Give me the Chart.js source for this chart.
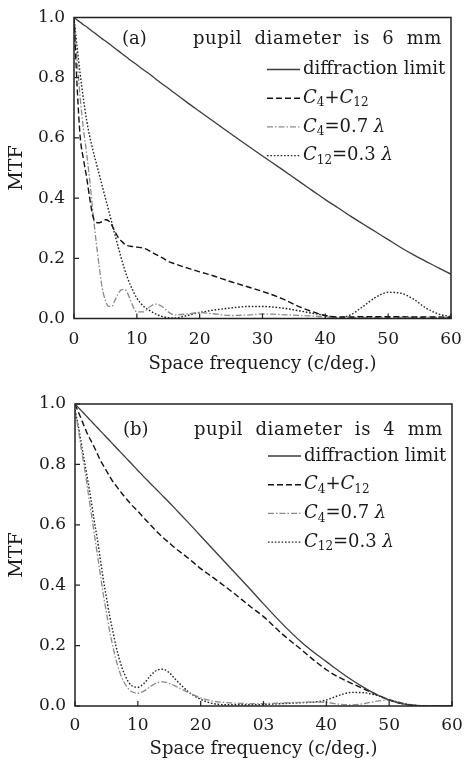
<!DOCTYPE html>
<html>
<head>
<meta charset="utf-8">
<script src="https://cdn.jsdelivr.net/npm/chart.js@4.4.0/dist/chart.umd.min.js"></script>
<style>
body{margin:0;background:#fff;width:464px;height:763px;overflow:hidden}
.box{position:absolute;left:0;width:464px}
</style>
</head>
<body>
<div class="box" style="top:0;height:380px"><canvas id="chartA" width="464" height="380"></canvas></div>
<div class="box" style="top:385px;height:378px"><canvas id="chartB" width="464" height="378"></canvas></div>
<script>
// spatial frequency samples (c/deg.), shared by both panels
var freq = [0,0.5,1,1.5,2,2.5,3,3.5,4,4.5,5,5.5,6,6.5,7,7.5,8,8.5,9,10,11,12,13,14,15,16,18,20,22,25,28,30,33,36,38,40,42,44,46,48,50,52,54,56,58,60];

// (a) pupil diameter 6 mm
var diffA = [1.0,0.992,0.984,0.976,0.969,0.961,0.953,0.945,0.937,0.929,0.922,0.914,0.906,0.898,0.89,0.882,0.874,0.866,0.858,0.843,0.827,0.812,0.796,0.78,0.765,0.749,0.718,0.688,0.658,0.613,0.569,0.54,0.497,0.453,0.424,0.395,0.368,0.34,0.314,0.288,0.262,0.236,0.212,0.19,0.168,0.147];
var comboA = [1.0,0.77,0.6,0.53,0.47,0.4,0.34,0.32,0.318,0.322,0.328,0.325,0.31,0.29,0.27,0.258,0.248,0.242,0.24,0.237,0.234,0.225,0.213,0.202,0.19,0.182,0.168,0.155,0.143,0.122,0.103,0.09,0.067,0.038,0.022,0.01,0.005,0.005,0.006,0.006,0.006,0.006,0.005,0.005,0.005,0.004];
var defocusA = [1.0,0.86,0.73,0.63,0.55,0.46,0.355,0.26,0.175,0.1,0.06,0.04,0.04,0.06,0.08,0.095,0.097,0.085,0.06,0.022,0.022,0.038,0.048,0.04,0.022,0.012,0.015,0.02,0.016,0.01,0.012,0.015,0.013,0.01,0.008,0.005,0.004,0.004,0.004,0.004,0.004,0.004,0.004,0.004,0.004,0.003];
var sphericalA = [1.0,0.9,0.81,0.73,0.66,0.605,0.56,0.52,0.48,0.44,0.4,0.36,0.32,0.28,0.24,0.202,0.167,0.136,0.11,0.068,0.042,0.027,0.015,0.007,0.003,0.002,0.01,0.02,0.027,0.035,0.04,0.04,0.035,0.025,0.017,0.01,0.002,0.012,0.04,0.07,0.087,0.084,0.065,0.035,0.015,0.006];

// (b) pupil diameter 4 mm
var diffB = [1.0,0.989,0.978,0.967,0.956,0.945,0.934,0.923,0.912,0.901,0.89,0.879,0.868,0.857,0.846,0.835,0.824,0.813,0.802,0.78,0.758,0.737,0.716,0.695,0.674,0.652,0.608,0.563,0.518,0.451,0.384,0.338,0.272,0.212,0.178,0.147,0.116,0.087,0.061,0.038,0.02,0.008,0.002,0,0,0];
var comboB = [1.0,0.975,0.95,0.925,0.9,0.88,0.86,0.838,0.815,0.797,0.779,0.761,0.744,0.73,0.716,0.703,0.69,0.678,0.666,0.645,0.622,0.6,0.578,0.558,0.54,0.522,0.49,0.455,0.425,0.378,0.328,0.296,0.238,0.187,0.152,0.12,0.095,0.075,0.056,0.038,0.02,0.008,0.002,0,0,0];
var defocusB = [0.98,0.92,0.85,0.79,0.72,0.65,0.58,0.51,0.44,0.37,0.31,0.25,0.2,0.155,0.12,0.092,0.072,0.057,0.048,0.042,0.05,0.064,0.077,0.08,0.075,0.066,0.045,0.027,0.016,0.01,0.008,0.008,0.01,0.012,0.013,0.012,0.006,0.004,0.008,0.016,0.02,0.01,0.003,0,0,0];
var sphericalB = [0.98,0.93,0.87,0.81,0.75,0.69,0.62,0.56,0.49,0.42,0.36,0.3,0.25,0.2,0.16,0.125,0.1,0.08,0.068,0.062,0.075,0.1,0.118,0.122,0.11,0.088,0.048,0.022,0.008,0.004,0.004,0.005,0.008,0.011,0.013,0.02,0.035,0.045,0.044,0.035,0.02,0.009,0.003,0,0,0];

var xTicksA = ['0','10','20','30','40','50','60'];
var xTicksB = ['0','10','20','03','40','50','60'];
var yTicks = ['0.0','0.2','0.4','0.6','0.8','1.0'];

var seriesNames = ['diffraction limit','C4+C12','C4=0.7 \u03bb','C12=0.3 \u03bb'];
// legend text pieces: n = normal, i = italic, s = subscript
var legendParts = [
  [['diffraction limit','n']],
  [['C','i'],['4','s'],['+','n'],['C','i'],['12','s']],
  [['C','i'],['4','s'],['=0.7 ','n'],['\u03bb','i']],
  [['C','i'],['12','s'],['=0.3 ','n'],['\u03bb','i']]
];

var FONT = '"DejaVu Serif", serif';
var TXT = '#1a1a1a';

function pts(vals){
  var out = [];
  for(var i=0;i<freq.length;i++) out.push({x:freq[i], y:vals[i]});
  return out;
}

var lineStyles = [
  {color:'#3c3c3c', dash:[], width:1.3},
  {color:'#111111', dash:[6,3], width:1.4},
  {color:'#8a8a8a', dash:[6,2,1.5,2], width:1.3},
  {color:'#222222', dash:[1.6,1.8], width:1.4}
];

function makeSets(list){
  return list.map(function(vals,i){
    var s = lineStyles[i];
    return {
      label: seriesNames[i],
      data: pts(vals),
      borderColor: s.color,
      borderDash: s.dash,
      borderWidth: s.width,
      pointRadius: 0,
      fill: false,
      cubicInterpolationMode: 'monotone'
    };
  });
}

function drawParts(ctx, parts, x, y){
  parts.forEach(function(p){
    if(p[1]=='s'){
      ctx.font = '12px ' + FONT;
      ctx.fillText(p[0], x, y+5);
    }else{
      ctx.font = (p[1]=='i'?'italic ':'') + '18px ' + FONT;
      ctx.fillText(p[0], x, y);
    }
    x += ctx.measureText(p[0]).width;
  });
}

var panelText = {
  id: 'panelText',
  afterDraw: function(chart, args, opts){
    var ctx = chart.ctx, a = chart.chartArea;
    var xs = chart.scales.x, ys = chart.scales.y;
    ctx.save();
    ctx.strokeStyle = '#222';
    ctx.lineWidth = 1.5;
    ctx.setLineDash([]);
    ctx.strokeRect(a.left, a.top, a.right-a.left, a.bottom-a.top);
    // inward tick marks
    ctx.lineWidth = 1.2;
    ctx.beginPath();
    xs.ticks.forEach(function(t){
      var px = xs.getPixelForValue(t.value);
      ctx.moveTo(px, a.bottom); ctx.lineTo(px, a.bottom-5);
    });
    ys.ticks.forEach(function(t){
      var py = ys.getPixelForValue(t.value);
      ctx.moveTo(a.left, py); ctx.lineTo(a.left+5, py);
    });
    ctx.stroke();

    ctx.fillStyle = TXT;
    ctx.textBaseline = 'middle';
    ctx.font = '18px ' + FONT;
    ctx.fillText(opts.tag, a.left+48, a.top+opts.titleY);
    ctx.letterSpacing = '0.6px';
    ctx.wordSpacing = '6px';
    ctx.fillText(opts.title, a.left+119, a.top+opts.titleY);
    ctx.letterSpacing = '0px';
    ctx.wordSpacing = '0px';

    chart.data.datasets.forEach(function(ds,i){
      var y = a.top + 52 + i*28.7;
      ctx.beginPath();
      ctx.setLineDash(ds.borderDash);
      ctx.strokeStyle = ds.borderColor;
      ctx.lineWidth = ds.borderWidth;
      ctx.moveTo(a.left+193, y);
      ctx.lineTo(a.left+226, y);
      ctx.stroke();
      ctx.setLineDash([]);
      drawParts(ctx, legendParts[i], a.left+229, y);
    });
    ctx.restore();
  }
};

function makeChart(id, sets, xLabels, o){
  return new Chart(document.getElementById(id), {
    type: 'line',
    data: {datasets: makeSets(sets)},
    options: {
      responsive: false,
      animation: false,
      layout: {padding: {top:o.top, right:o.right, left:0, bottom:0}},
      plugins: {
        legend: {display:false},
        tooltip: {enabled:false},
        panelText: {tag:o.tag, title:o.title, titleY:o.titleY}
      },
      scales: {
        x: {
          type: 'linear', min: 0, max: 60,
          grid: {display:false, drawTicks:false},
          border: {display:false},
          ticks: {stepSize:10, padding:o.xPad, color:TXT, font:{family:FONT, size:17},
            maxRotation:0,
            callback: function(v){ return xLabels[Math.round(v/10)]; }},
          title: {display:true, text:'Space frequency (c/deg.)', color:TXT,
            font:{family:FONT, size:18}, padding:{top:0, bottom:o.titlePad}},
          afterFit: function(s){ s.height = o.xH; s.paddingLeft = 0; s.paddingRight = 0; }
        },
        y: {
          min: 0, max: 1,
          grid: {display:false, drawTicks:false},
          border: {display:false},
          ticks: {stepSize:0.2, padding:9, color:TXT, font:{family:FONT, size:17},
            callback: function(v){ return yTicks[Math.round(v*5)]; }},
          title: {display:true, text:'MTF', color:TXT,
            font:{family:FONT, size:19}, padding:{top:6, bottom:0}},
          afterFit: function(s){ s.width = o.yW; s.paddingTop = 0; s.paddingBottom = 0; }
        }
      }
    },
    plugins: [panelText]
  });
}

makeChart('chartA', [diffA, comboA, defocusA, sphericalA], xTicksA,
  {tag:'(a)', title:'pupil diameter is 6 mm', titleY:21.5, top:17.5, right:13, yW:74, xH:61.5, xPad:11, titlePad:5});
makeChart('chartB', [diffB, comboB, defocusB, sphericalB], xTicksB,
  {tag:'(b)', title:'pupil diameter is 4 mm', titleY:26, top:19, right:12, yW:75, xH:57, xPad:9, titlePad:3});
</script>
</body>
</html>
